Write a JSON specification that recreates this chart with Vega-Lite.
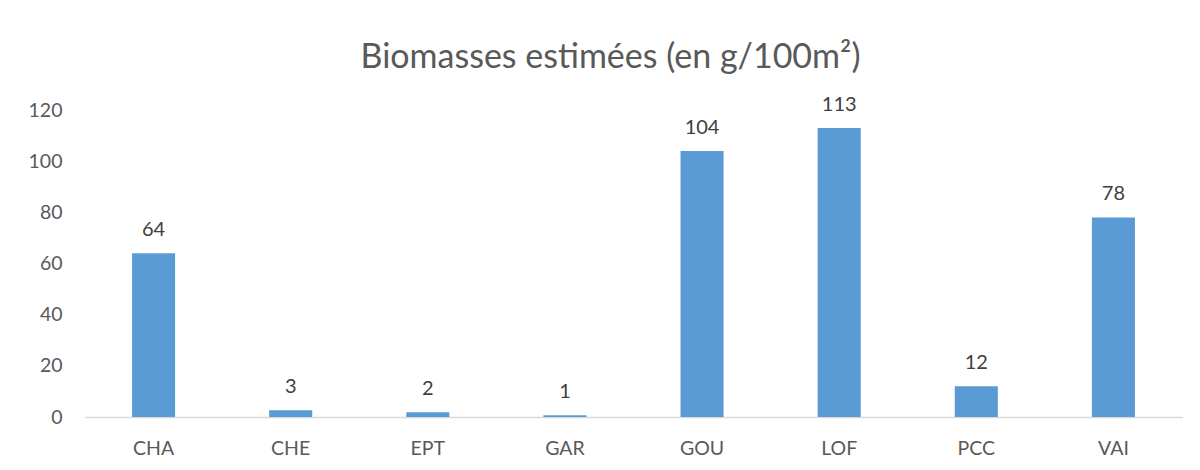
{
  "$schema": "https://vega.github.io/schema/vega-lite/v6.json",
  "autosize": {"type": "none"},
  "padding": {"left": 85, "top": 110, "right": 18, "bottom": 53},
  "width": 1097,
  "height": 307,
  "background": "white",
  "title": {
    "text": "Biomasses estimées (en g/100m²)",
    "font": "Lato",
    "fontSize": 34,
    "fontWeight": "normal",
    "color": "#595959",
    "anchor": "middle",
    "baseline": "bottom",
    "offset": -14,
    "dx": -23
  },
  "data": {
    "values": [
      {"site": "CHA", "biomasse": 64},
      {"site": "CHE", "biomasse": 2.6},
      {"site": "EPT", "biomasse": 1.9},
      {"site": "GAR", "biomasse": 0.7},
      {"site": "GOU", "biomasse": 104},
      {"site": "LOF", "biomasse": 113},
      {"site": "PCC", "biomasse": 12},
      {"site": "VAI", "biomasse": 78}
    ]
  },
  "encoding": {
    "x": {
      "field": "site",
      "type": "nominal",
      "sort": null,
      "title": null,
      "scale": {"paddingInner": 0.686, "paddingOuter": 0.343},
      "axis": {
        "labelAngle": 0,
        "labelFont": "Lato",
        "labelFontSize": 19.5,
        "labelColor": "#595959",
        "labelPadding": 22,
        "ticks": false,
        "domainColor": "#d9d9d9",
        "domainWidth": 1.5
      }
    },
    "y": {
      "field": "biomasse",
      "type": "quantitative",
      "title": null,
      "scale": {"domain": [0, 120]},
      "axis": {
        "values": [0, 20, 40, 60, 80, 100, 120],
        "labelFont": "Lato",
        "labelFontSize": 19.5,
        "labelColor": "#595959",
        "labelPadding": 23,
        "ticks": false,
        "domain": false,
        "grid": false
      }
    }
  },
  "layer": [
    {"mark": {"type": "bar", "color": "#5b9bd5"}},
    {
      "mark": {
        "type": "text",
        "font": "Lato",
        "fontSize": 20,
        "color": "#404040",
        "baseline": "bottom",
        "dy": -13
      },
      "encoding": {
        "text": {"field": "biomasse", "type": "quantitative", "format": ".0f"}
      }
    }
  ],
  "config": {"view": {"stroke": null}}
}
